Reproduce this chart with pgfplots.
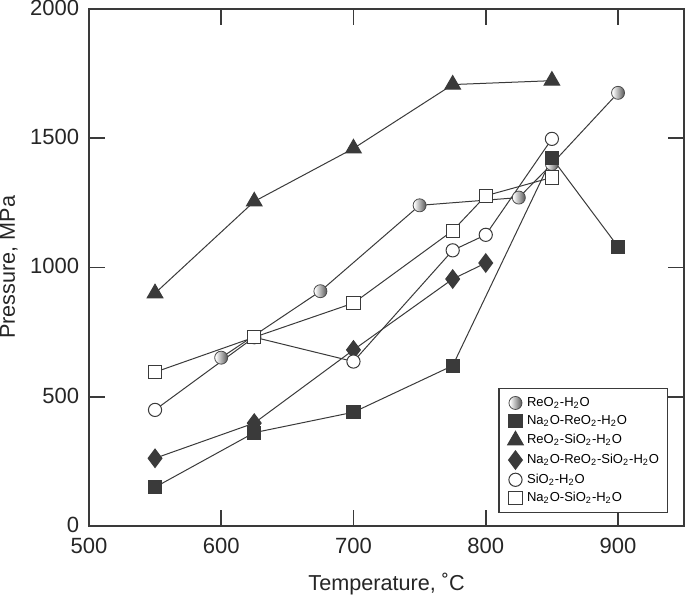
\documentclass[border=0pt]{standalone}
\usepackage{fontspec}
\setmainfont{Liberation Sans}
\usepackage{pgfplots}
\usepackage{pgfplotstable}
\pgfplotsset{compat=1.18}
\definecolor{dk}{HTML}{3A3A3A}

\pgfdeclarehorizontalshading{gballshade}{100bp}{color(0bp)=(white); color(28bp)=(white); color(72bp)=(black!62); color(100bp)=(black!62)}
\pgfdeclareplotmark{gball}{%
  \pgfpathcircle{\pgfpointorigin}{\pgfplotmarksize}%
  \pgfshadepath{gballshade}{0}%
  \pgfusepath{stroke}}

\pgfplotstableread{
x y
600 651
675 908
750 1240
825 1270
850 1400
900 1675
}\reoh
\pgfplotstableread{
x y
550 150
625 361
700 440
775 620
850 1423
900 1080
}\nareoh
\pgfplotstableread{
x y
550 900
625 1255
700 1460
775 1707
850 1722
}\reosioh
\pgfplotstableread{
x y
550 262
625 398
700 681
775 955
800 1017
}\nareosioh
\pgfplotstableread{
x y
550 449
625 730
700 636
775 1066
800 1126
850 1497
}\sioh
\pgfplotstableread{
x y
550 595
625 730
700 862
775 1142
800 1277
850 1348
}\nasioh

\newcommand{\tsub}[1]{\textsubscript{#1}}

\begin{document}
\begin{tikzpicture}
\begin{axis}[
  scale only axis, width=297.35pt, height=258.35pt,
  xmin=500, xmax=950, ymin=0, ymax=2000,
  xtick={500,600,700,800,900}, ytick={0,500,1000,1500,2000},
  tick align=inside, major tick length=8pt,
  tick style={line width=0.8pt, color=dk},
  axis line style={line width=0.8pt, color=dk},
  /pgf/number format/assume math mode=true,
  /pgf/number format/set thousands separator={},
  ticklabel style={font=\fontsize{11}{13}\selectfont, color=black!85, inner sep=0pt},
  xticklabel style={anchor=north, yshift=-5.8pt},
  yticklabel style={anchor=east, xshift=-4.65pt, yshift=0.5pt},
  xlabel={Temperature, ˚C}, ylabel={Pressure, MPa},
  label style={font=\fontsize{10.8}{13}\selectfont, color=black!85},
  xlabel style={at={([yshift=-32.3pt]rel axis cs:0.5,0)}, anchor=base, inner sep=0pt},
  ylabel style={at={([xshift=-44.6pt]rel axis cs:0,0.5)}, anchor=north, inner sep=0pt},
  legend style={at={(rel axis cs:0.688,0.267)}, anchor=north west,
    font=\fontsize{6.5}{7.5}\selectfont, draw=dk, line width=0.6pt,
    inner xsep=3.2pt, inner ysep=3.4pt, row sep=1.35pt,
    nodes={inner sep=0.8pt}, cells={anchor=west}},
  legend image code/.code={\path[draw=none,fill=none] (0pt,0pt) -- (10pt,0pt); \draw[#1,line width=0.5pt] plot[only marks] coordinates {(5pt,0pt)};},
  every axis plot/.append style={line width=0.5pt, color=dk},
]
\addplot[dk, mark=gball, mark size=3.25pt, mark options={draw=black!70, line width=0.4pt}]
  table[x=x,y=y] {\reoh};
\addlegendentry{ReO\tsub{2}-H\tsub{2}O}
\addplot[dk, mark=square*, mark size=3.3pt, mark options={fill=dk, draw=dk}]
  table[x=x,y=y] {\nareoh};
\addlegendentry{Na\tsub{2}O-ReO\tsub{2}-H\tsub{2}O}
\addplot[dk, mark=triangle*, mark size=4.5pt, mark options={fill=dk, draw=dk}]
  table[x=x,y=y] {\reosioh};
\addlegendentry{ReO\tsub{2}-SiO\tsub{2}-H\tsub{2}O}
\addplot[dk, mark=diamond*, mark size=4.6pt, mark options={fill=dk, draw=dk}]
  table[x=x,y=y] {\nareosioh};
\addlegendentry{Na\tsub{2}O-ReO\tsub{2}-SiO\tsub{2}-H\tsub{2}O}
\addplot[dk, mark=*, mark size=3.3pt, mark options={fill=white, draw=dk, line width=0.5pt}]
  table[x=x,y=y] {\sioh};
\addlegendentry{SiO\tsub{2}-H\tsub{2}O}
\addplot[dk, mark=square*, mark size=3.3pt, mark options={fill=white, draw=dk, line width=0.5pt}]
  table[x=x,y=y] {\nasioh};
\addlegendentry{Na\tsub{2}O-SiO\tsub{2}-H\tsub{2}O}
\end{axis}
\end{tikzpicture}
\end{document}
